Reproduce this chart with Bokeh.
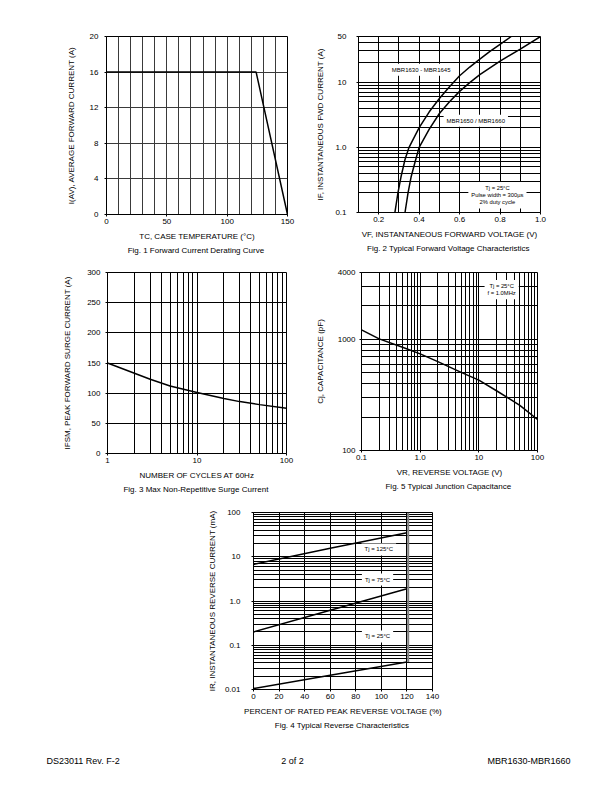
import numpy as np
from bokeh.plotting import figure
from bokeh.models import FixedTicker, Label, Title, Spacer, Range1d
from bokeh.layouts import column, row
from bokeh.embed import file_html
from bokeh.resources import INLINE

FONT = "Liberation Sans"

# ---------------- data ----------------
# Fig. 1 Forward current derating
derating_tc = [0, 124, 150]
derating_iav = [16, 16, 0]

# Fig. 2 Typical forward voltage characteristics
vf_1645_v = [0.28, 0.295, 0.31, 0.33, 0.35, 0.40, 0.45, 0.50, 0.55, 0.60, 0.65, 0.70, 0.75, 0.80, 0.855]
vf_1645_i = [0.1, 0.2, 0.35, 0.65, 1.0, 2.0, 3.5, 5.6, 8.5, 12.5, 17.0, 22.5, 29.5, 38.0, 50.0]
vf_1660_v = [0.33, 0.345, 0.36, 0.38, 0.40, 0.45, 0.50, 0.55, 0.60, 0.65, 0.70, 0.80, 0.90, 1.00]
vf_1660_i = [0.1, 0.2, 0.35, 0.6, 1.0, 1.9, 3.3, 5.0, 7.2, 9.8, 13.0, 21.0, 32.0, 50.0]

# Fig. 3 Max non-repetitive surge current
surge_cycles = [1, 2, 3, 5, 10, 20, 30, 50, 100]
surge_ifsm = [150, 133, 123, 112, 101, 91, 86, 81, 75]

# Fig. 5 Typical junction capacitance
cap_vr = [0.1, 0.2, 0.5, 1, 2, 5, 10, 20, 50, 100]
cap_cj = [1220, 1010, 850, 740, 630, 505, 430, 345, 255, 190]

# Fig. 4 Typical reverse characteristics
rev_pct = [0, 60, 120]
rev_125c = [6.7, 15.5, 35]
rev_75c = [0.2, 0.62, 1.9]
rev_25c = [0.0105, 0.021, 0.042]
rev_limit_pct = [121, 121]
rev_limit_ma = [0.042, 100]

# tick / grid values
f1_xticks = [0, 50, 100, 150]
f1_xgrid = list(range(0, 151, 10))
f1_yticks = [0, 4, 8, 12, 16, 20]

f2_xticks = [0.2, 0.4, 0.6, 0.8, 1.0]
f2_xlabels = {0.2: "0.2", 0.4: "0.4", 0.6: "0.6", 0.8: "0.8", 1.0: "1.0"}
f2_xgrid = [0.1, 0.2, 0.3, 0.4, 0.5, 0.6, 0.7, 0.8, 0.9, 1.0]
f2_yticks = [0.1, 1.0, 10, 50]
f2_ylabels = {0.1: "0.1", 1.0: "1.0", 10: "10", 50: "50"}

f3_xticks = [1, 10, 100]
f3_xlabels = {1: "1", 10: "10", 100: "100"}
f3_yticks = [0, 50, 100, 150, 200, 250, 300]

f5_xticks = [0.1, 1.0, 10, 100]
f5_xlabels = {0.1: "0.1", 1.0: "1.0", 10: "10", 100: "100"}
f5_yticks = [100, 1000, 4000]
f5_ylabels = {100: "100", 1000: "1000", 4000: "4000"}

f4_xticks = [0, 20, 40, 60, 80, 100, 120, 140]
f4_yticks = [0.01, 0.1, 1.0, 10, 100]
f4_ylabels = {0.01: "0.01", 0.1: "0.1", 1.0: "1.0", 10: "10", 100: "100"}


def log_grid(lo_exp, hi_exp, vmax=None):
    vals = []
    for e in range(lo_exp, hi_exp + 1):
        for k in range(1, 10):
            v = round(k * 10.0 ** e, 6)
            vals.append(v)
    if vmax is not None:
        vals = [v for v in vals if v <= vmax + 1e-9]
    return vals


def make_fig(fw, fh, xr, yr, xt="linear", yt="linear", left=50, top=20, bottom=45, right=10):
    p = figure(frame_width=fw, frame_height=fh, x_range=Range1d(*xr), y_range=Range1d(*yr),
               x_axis_type=xt, y_axis_type=yt, output_backend="svg", toolbar_location=None,
               min_border_left=left, min_border_top=top, min_border_bottom=bottom,
               min_border_right=right, background_fill_color="white", border_fill_color="white")
    p.outline_line_color = "black"
    p.outline_line_width = 1
    p.outline_line_alpha = 1
    for ax in (p.xaxis[0], p.yaxis[0]):
        ax.axis_line_color = "black"
        ax.major_tick_line_color = "black"
        ax.major_tick_out = 2
        ax.major_tick_in = 0
        ax.minor_tick_out = 0
        ax.minor_tick_in = 0
        ax.major_label_text_font = FONT
        ax.major_label_text_font_size = "8px"
        ax.major_label_text_color = "black"
        ax.axis_label_text_font = FONT
        ax.axis_label_text_font_size = "8px"
        ax.axis_label_text_font_style = "normal"
        ax.axis_label_text_color = "black"
    for g in (p.xgrid[0], p.ygrid[0]):
        g.grid_line_color = "black"
        g.grid_line_width = 1
        g.grid_line_alpha = 1
    return p


def finish(p, xlabel, ylabel, caption, xticks, yticks, xgrid, ygrid,
           ylab_so, ytick_so, xtick_so=2, xlab_so=5, cap_so=0, xover=None, yover=None):
    p.xaxis.ticker = FixedTicker(ticks=xticks)
    p.yaxis.ticker = FixedTicker(ticks=yticks)
    p.xgrid.ticker = FixedTicker(ticks=xgrid)
    p.ygrid.ticker = FixedTicker(ticks=ygrid)
    if xover:
        p.xaxis.major_label_overrides = xover
    if yover:
        p.yaxis.major_label_overrides = yover
    p.xaxis.axis_label = xlabel
    p.yaxis.axis_label = ylabel
    p.xaxis.major_label_standoff = xtick_so
    p.xaxis.axis_label_standoff = xlab_so
    p.yaxis.major_label_standoff = ytick_so
    p.yaxis.axis_label_standoff = ylab_so
    p.add_layout(Title(text=caption, align="center", text_font=FONT, text_font_size="8px",
                       text_font_style="normal", text_color="black", standoff=cap_so), "below")


def box(p, x, y, text, size="6px"):
    p.add_layout(Label(x=x, y=y, text=text, text_font=FONT, text_font_size=size,
                       text_align="center", text_baseline="middle", text_color="black",
                       background_fill_color="white", background_fill_alpha=1.0,
                       padding=3))


# ---------------- Fig. 1 ----------------
f1 = make_fig(181, 178, (0, 150), (0, 20), left=50, top=29, bottom=44, right=10)
f1.xgrid.grid_line_color = "#3a3a3a"
f1.ygrid.grid_line_color = "#3a3a3a"
f1.line(derating_tc, derating_iav, line_color="black", line_width=1.5)
finish(f1, "TC, CASE TEMPERATURE (°C)", "I(AV), AVERAGE FORWARD CURRENT (A)",
       "Fig. 1  Forward Current Derating Curve", f1_xticks, f1_yticks, f1_xgrid, f1_yticks,
       ylab_so=11, ytick_so=6)

# ---------------- Fig. 2 ----------------
f2 = make_fig(182, 176, (0.1, 1.0), (0.1, 50), yt="log", left=61, top=29, bottom=46, right=12)
f2.line(vf_1645_v, vf_1645_i, line_color="black", line_width=1.5)
f2.line(vf_1660_v, vf_1660_i, line_color="black", line_width=1.5)
finish(f2, "VF, INSTANTANEOUS FORWARD VOLTAGE (V)", "IF, INSTANTANEOUS FWD CURRENT (A)",
       "Fig. 2  Typical Forward Voltage Characteristics", f2_xticks, f2_yticks, f2_xgrid,
       log_grid(-1, 1, 50), ylab_so=7, ytick_so=10, xover=f2_xlabels, yover=f2_ylabels)
box(f2, 0.41, 15.4, "MBR1630 - MBR1645")
box(f2, 0.68, 2.55, "MBR1650 / MBR1660")
box(f2, 0.787, 0.184, "Tj = 25°C\nPulse width = 300µs\n2% duty cycle", size="5.8px")

# ---------------- Fig. 3 ----------------
f3 = make_fig(179, 181, (1, 100), (0, 300), xt="log", left=51, top=14, bottom=45, right=12)
f3.line(surge_cycles, surge_ifsm, line_color="black", line_width=1.5)
finish(f3, "NUMBER OF CYCLES AT 60Hz", "IFSM, PEAK FORWARD SURGE CURRENT (A)",
       "Fig. 3  Max Non-Repetitive Surge Current", f3_xticks, f3_yticks, log_grid(0, 2, 100),
       f3_yticks, ylab_so=12, ytick_so=5, xover=f3_xlabels)

# ---------------- Fig. 5 ----------------
f5 = make_fig(176, 178, (0.1, 100), (100, 4000), xt="log", yt="log", left=63, top=14,
              bottom=48, right=12)
f5.line(cap_vr, cap_cj, line_color="black", line_width=1.5)
finish(f5, "VR, REVERSE VOLTAGE (V)", "Cj, CAPACITANCE (pF)",
       "Fig. 5  Typical Junction Capacitance", f5_xticks, f5_yticks, log_grid(-1, 2, 100),
       log_grid(2, 3, 4000), ylab_so=10, ytick_so=4, xover=f5_xlabels, yover=f5_ylabels)
box(f5, 24.5, 2800, "Tj = 25°C\nf = 1.0MHz", size="5.8px")

# ---------------- Fig. 4 ----------------
f4 = make_fig(179, 177, (0, 140), (0.01, 100), yt="log", left=50, top=14, bottom=45, right=10)
f4.line(rev_limit_pct, rev_limit_ma, line_color="#808080", line_width=2)
f4.line(rev_pct, rev_125c, line_color="black", line_width=1.5)
f4.line(rev_pct, rev_75c, line_color="black", line_width=1.5)
f4.line(rev_pct, rev_25c, line_color="black", line_width=1.5)
finish(f4, "PERCENT OF RATED PEAK REVERSE VOLTAGE (%)", "IR, INSTANTANEOUS REVERSE CURRENT (mA)",
       "Fig. 4  Typical Reverse Characteristics", f4_xticks, f4_yticks, f4_xticks,
       log_grid(-2, 2, 100), ylab_so=5, ytick_so=11, yover=f4_ylabels)
box(f4, 98, 14.6, "Tj = 125°C")
box(f4, 97, 3.06, "Tj = 75°C")
box(f4, 97, 0.158, "Tj = 25°C")

# ---------------- footer ----------------
foot = figure(width=596, height=40, x_range=Range1d(0, 596), y_range=Range1d(0, 40),
              output_backend="svg", toolbar_location=None, x_axis_location=None,
              y_axis_location=None, min_border=0, outline_line_color=None,
              background_fill_color="white", border_fill_color="white")
foot.grid.visible = False
for x, txt, al in [(46, "DS23011 Rev. F-2", "left"), (292, "2 of 2", "center"),
                   (570, "MBR1630-MBR1660", "right")]:
    foot.add_layout(Label(x=x, y=14, x_units="screen", y_units="screen", text=txt,
                          text_font=FONT, text_font_size="9px", text_align=al,
                          text_baseline="middle", text_color="black"))

layout = column(
    Spacer(width=10, height=7),
    row(Spacer(width=56, height=10), f1, f2),
    row(Spacer(width=56, height=10), f3, f5),
    row(Spacer(width=203, height=10), f4),
    foot,
)

open("out.html", "w").write(file_html(layout, INLINE))
